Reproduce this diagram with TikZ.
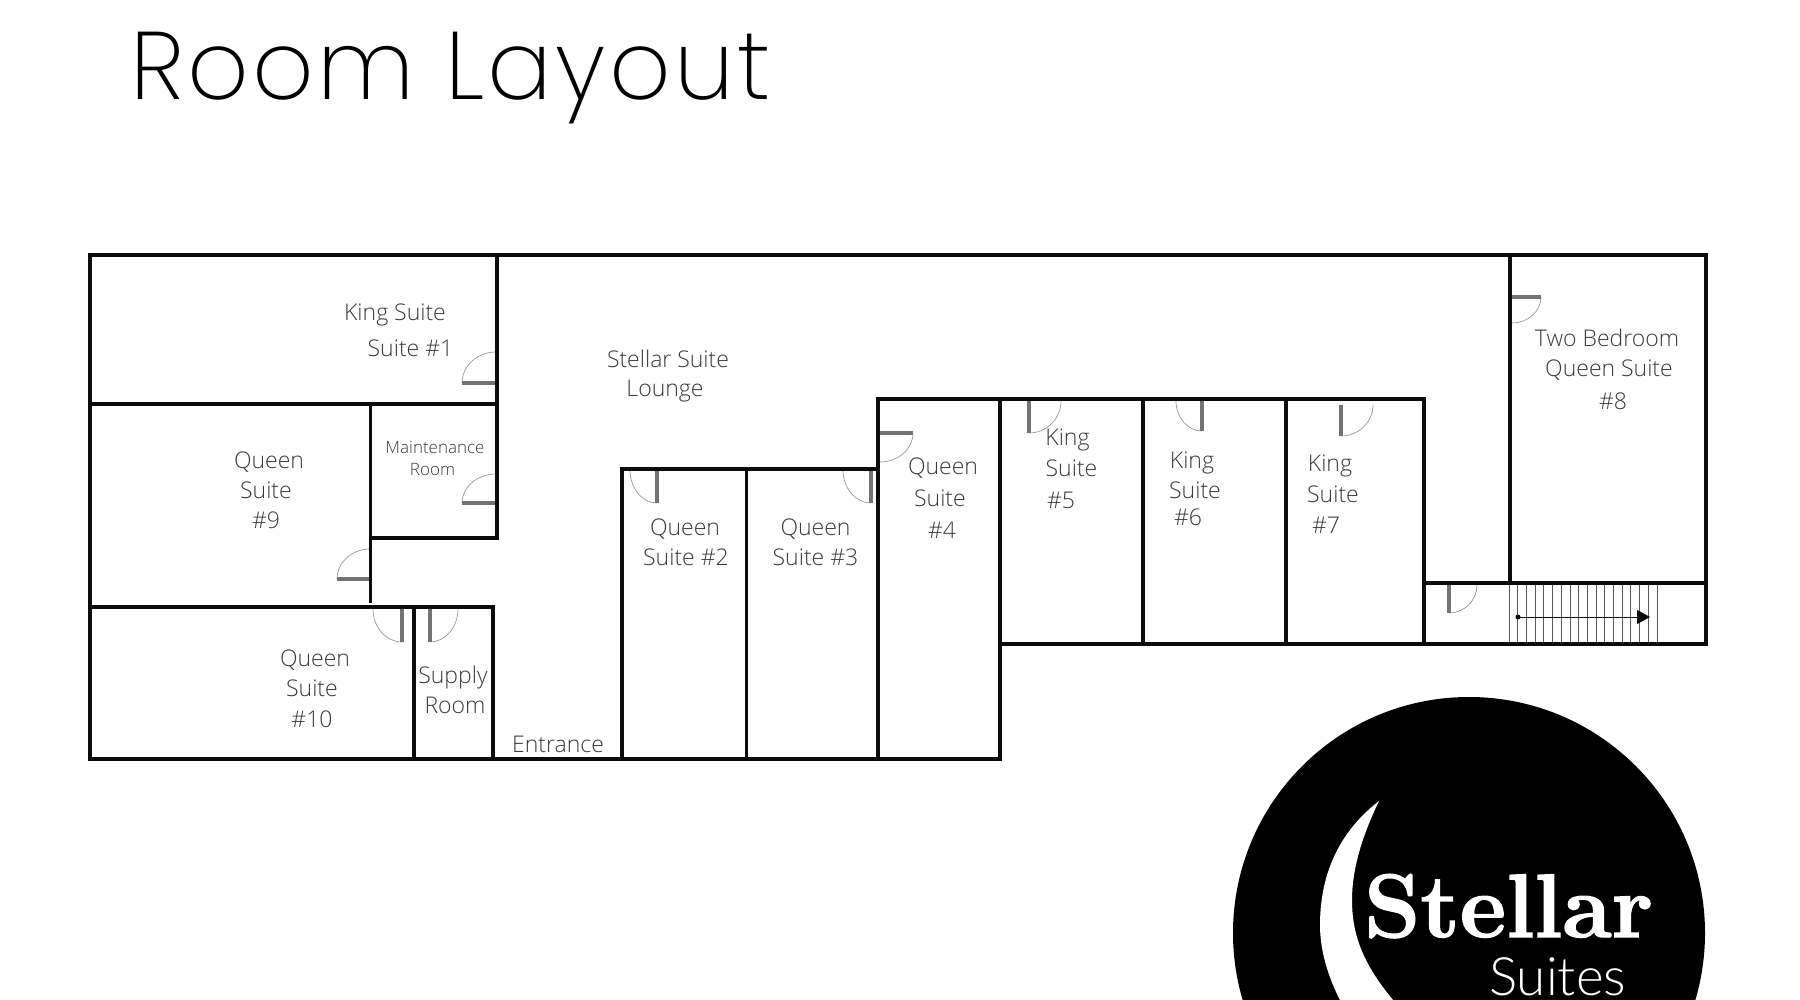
\documentclass[tikz,border=0pt]{standalone}
\usepackage{fontspec}
\setmainfont{Open Sans Light}
\newfontfamily\titlefont{Poppins ExtraLight}
\newfontfamily\suitesfont{Lato Light}
\newfontfamily\logofont[BoldFeatures={FakeBold=1.6}]{Latin Modern Roman}
\usetikzlibrary{calc,arrows.meta}

\definecolor{wallcol}{HTML}{0C0C0C}
\definecolor{labelcol}{HTML}{3A3A3A}
\tikzset{
  walls/.style={line width=3.5pt, color=wallcol, line join=miter},
  doorleaf/.style={line width=3.2pt, color=black!55},
  doorarc/.style={line width=.7pt, color=black!40},
  treads/.style={line width=.8pt, color=black!65},
  room/.style={font=\fontsize{23}{26}\selectfont, text=labelcol, inner sep=0pt},
  smallroom/.style={font=\fontsize{17}{20}\selectfont, text=labelcol, inner sep=0pt},
}
% hinge, end of the leaf, end of the swing
\newcommand{\doorway}[3]{
  \draw[doorarc] (#2) .. controls ($(#2)+.55*(#3)-.55*(#1)$) and ($(#3)+.55*(#2)-.55*(#1)$) .. (#3);
  \draw[doorleaf] (#1) -- (#2);
}

\begin{document}
\begin{tikzpicture}[x=1pt, y=-1pt]
  \useasboundingbox (0,0) rectangle (1800,1000);
  \clip (0,0) rectangle (1800,1000);

  \node[font=\titlefont\fontsize{96}{96}\selectfont, text=black, anchor=base west, inner sep=0pt] (title) at (130,100) {\addfontfeatures{LetterSpace=3.4}Room Layout};

  % stairs
  \foreach \i in {0,...,17}
    \draw[treads] ({1509+\i*8.7},585) -- ({1509+\i*8.7},646);
  \coordinate (stairfoot) at (1518,617);
  \coordinate (stairhead) at (1650,617);
  \fill[wallcol] (stairfoot) circle (2.5);
  \draw[wallcol, line width=.9pt, -{Triangle[length=13pt,width=14pt]}] (stairfoot) -- (stairhead);

  % doors
  \doorway{496,383}{462,383}{496,352}
  \doorway{496,503}{462,503}{496,474}
  \doorway{370,579}{337,579}{370,549}
  \doorway{402,609}{402,642}{373,609}
  \doorway{430,609}{430,642}{458,609}
  \doorway{657,470}{657,503}{630,470}
  \doorway{871,470}{871,503}{843,470}
  \doorway{880,433}{913,433}{880,462}
  \doorway{1029,401}{1029,433}{1061,401}
  \doorway{1202,401}{1202,431}{1176,401}
  \doorway{1341,405}{1341,436}{1373,405}
  \doorway{1449,585}{1449,613}{1477,585}
  \doorway{1512,297}{1541,297}{1512,323}

  % walls
  \draw[walls] (90,255) -- (1706,255) -- (1706,644) -- (1000,644) -- (1000,759) -- (90,759) -- cycle;
  \draw[walls] (90,404) -- (497,404);
  \draw[walls] (497,255) -- (497,538) -- (370.5,538);
  \draw[walls] (370.5,404) -- (370.5,603);
  \draw[walls] (90,607) -- (493,607) -- (493,759);
  \draw[walls] (414,607) -- (414,759);
  \draw[walls] (622,759) -- (622,469) -- (878,469);
  \draw[walls] (746.5,469) -- (746.5,759);
  \draw[walls] (878,759) -- (878,399) -- (1424,399) -- (1424,644);
  \draw[walls] (1000,399) -- (1000,644);
  \draw[walls] (1143,399) -- (1143,644);
  \draw[walls] (1286,399) -- (1286,644);
  \draw[walls] (1424,583) -- (1706,583);
  \draw[walls] (1510,255) -- (1510,583);

  % room names
  \node[room] (kingOneA) at (395,315) {King Suite};
  \node[room] (kingOneB) at (410.5,348) {Suite \#1};
  \node[room] (loungeA) at (668,359) {Stellar Suite};
  \node[room] (loungeB) at (665,391.5) {Lounge};
  \node[smallroom] (maintA) at (435,447) {Maintenance};
  \node[smallroom] (maintB) at (432.5,470) {Room};
  \node[room] (queenNineA) at (269,462) {Queen};
  \node[room] (queenNineB) at (266,490) {Suite};
  \node[room] (queenNineC) at (266,520) {\#9};
  \node[room] (queenTenA) at (315,660) {Queen};
  \node[room] (queenTenB) at (312,688.5) {Suite};
  \node[room] (queenTenC) at (312,719) {\#10};
  \node[room] (supplyA) at (453,678) {Supply};
  \node[room] (supplyB) at (455,705.5) {Room};
  \node[room] (entrance) at (558,744) {Entrance};
  \node[room] (queenTwoA) at (685,529) {Queen};
  \node[room] (queenTwoB) at (686,557.5) {Suite \#2};
  \node[room] (queenThreeA) at (815.5,529) {Queen};
  \node[room] (queenThreeB) at (815.5,557.5) {Suite \#3};
  \node[room] (queenFourA) at (943,468) {Queen};
  \node[room] (queenFourB) at (940,498) {Suite};
  \node[room] (queenFourC) at (942,530) {\#4};
  \node[room] (kingFiveA) at (1067.5,440) {King};
  \node[room] (kingFiveB) at (1071.5,468) {Suite};
  \node[room] (kingFiveC) at (1061,500) {\#5};
  \node[room] (kingSixA) at (1192,463) {King};
  \node[room] (kingSixB) at (1195,490) {Suite};
  \node[room] (kingSixC) at (1188,517.5) {\#6};
  \node[room] (kingSevenA) at (1330,465.5) {King};
  \node[room] (kingSevenB) at (1333,494) {Suite};
  \node[room] (kingSevenC) at (1326,525.5) {\#7};
  \node[room] (twoBedA) at (1607,338) {Two Bedroom};
  \node[room] (twoBedB) at (1609,370.5) {Queen Suite};
  \node[room] (twoBedC) at (1613,401) {\#8};

  % logo
  \fill[black] (1469,933) circle (236);
  \fill[white] (1379,801) .. controls (1335,835) and (1320,880) .. (1320,925)
    .. controls (1320,960) and (1335,1000) .. (1365,1040) -- (1430,1040)
    .. controls (1375,985) and (1352,950) .. (1352,900)
    .. controls (1352,865) and (1365,830) .. (1379,801) -- cycle;
  \node[font=\logofont\bfseries\fontsize{90}{90}\selectfont, text=white, anchor=base west, inner sep=0pt] (stellar) at (1364,937) {Stellar};
  \node[font=\suitesfont\fontsize{53}{53}\selectfont, text=white, anchor=base west, inner sep=0pt] (suites) at (1489,995) {Suites};
\end{tikzpicture}
\end{document}
